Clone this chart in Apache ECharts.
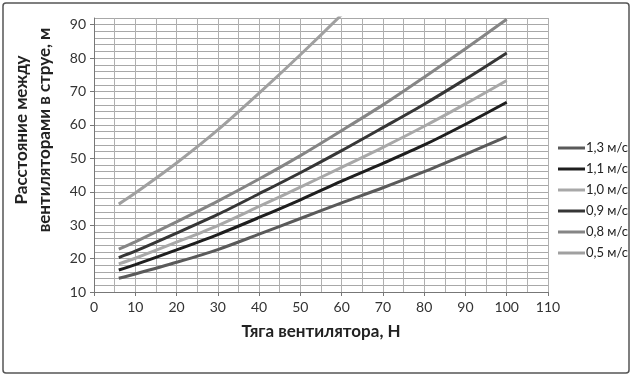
<!DOCTYPE html>
<html>
<head>
<meta charset="utf-8">
<script src="https://cdn.jsdelivr.net/npm/echarts@6/dist/echarts.min.js"></script>
<style>html,body{margin:0;padding:0;background:#fff}#c{width:635px;height:380px}</style>
</head>
<body>
<div id="c"></div>
<script>
// Thrust values (N)
var thrust = [6, 10, 20, 30, 40, 50, 60, 70, 80, 90, 100];
// Distance between fans (m) for each air velocity
var v13 = [14.1, 15.4, 18.9, 22.7, 27.3, 32.0, 36.7, 41.2, 46.0, 51.2, 56.5];
var v11 = [16.6, 18.2, 22.6, 27.2, 32.3, 37.6, 43.2, 48.5, 54.0, 60.2, 66.8];
var v10 = [18.4, 20.1, 24.9, 29.9, 35.6, 41.4, 47.3, 53.3, 59.6, 66.3, 73.3];
var v09 = [20.3, 22.2, 27.6, 33.2, 39.4, 45.7, 52.3, 59.2, 66.2, 73.7, 81.5];
var v08 = [22.8, 25.0, 31.0, 37.2, 43.8, 50.8, 58.3, 66.0, 74.3, 82.8, 91.6];
var v05 = [36.3, 39.6, 48.6, 58.5, 69.5, 81.0, 93.0, 105.5, 118.0, 131.0, 144.0];
var seriesNames = ['1,3 м/с', '1,1 м/с', '1,0 м/с', '0,9 м/с', '0,8 м/с', '0,5 м/с'];
var xTicks = [0, 10, 20, 30, 40, 50, 60, 70, 80, 90, 100, 110];
var yTicks = [10, 20, 30, 40, 50, 60, 70, 80, 90];

var colors = ['#5a5a5a', '#1e1e1e', '#a8a8a8', '#363636', '#858585', '#a0a0a0'];
var dataSets = [v13, v11, v10, v09, v08, v05];

function pairs(ys) { return thrust.map(function (x, i) { return [x, ys[i]]; }); }

var series = dataSets.map(function (d, i) {
  return {
    name: seriesNames[i], type: 'line', data: pairs(d), symbol: 'none', smooth: 0.3,
    xAxisIndex: 0, yAxisIndex: 0, z: 5,
    lineStyle: { color: colors[i], width: 3 }, itemStyle: { color: colors[i] }, clip: true
  };
});

var FONT = 'Lato';
var chart = echarts.init(document.getElementById('c'));
chart.setOption({
  animation: false,
  backgroundColor: '#fff',
  textStyle: { fontFamily: FONT },
  grid: { left: 94, right: 87, top: 18, bottom: 88 },
  xAxis: [{
    type: 'value', min: 0, max: 110, interval: 10,
    name: 'Тяга вентилятора, Н', nameLocation: 'middle', nameGap: 31,
    nameTextStyle: { fontSize: 17, fontWeight: 'bold', color: '#222', fontFamily: FONT },
    axisLine: { show: true, lineStyle: { color: '#777', width: 1 } },
    axisTick: { show: true, customValues: xTicks, length: 4, lineStyle: { color: '#777' } },
    axisLabel: { customValues: xTicks, color: '#333', fontSize: 14, margin: 8 },
    splitLine: { show: false }, z: 3
  }, {
    type: 'value', min: 0, max: 110, interval: 5, position: 'bottom',
    axisLine: { show: false }, axisTick: { show: false }, axisLabel: { show: false },
    splitLine: { show: true, lineStyle: { color: '#b0b0b0', width: 1 } }
  }],
  yAxis: [{
    type: 'value', min: 10, max: 92, interval: 10,
    axisLine: { show: true, lineStyle: { color: '#777', width: 1 } },
    axisTick: { show: true, customValues: yTicks, length: 4, lineStyle: { color: '#777' } },
    axisLabel: { customValues: yTicks, color: '#333', fontSize: 14, margin: 8 },
    splitLine: { show: false }, z: 3
  }, {
    type: 'value', min: 10, max: 92, interval: 2, position: 'left',
    axisLine: { show: false }, axisTick: { show: false }, axisLabel: { show: false },
    splitLine: { show: true, lineStyle: { color: '#a8a8a8', width: 1 } }
  }],
  legend: {
    orient: 'vertical', left: 553, top: 136, itemWidth: 27, itemHeight: 3, itemGap: 7,
    icon: 'rect',
    data: seriesNames,
    textStyle: { fontSize: 13, lineHeight: 14, color: '#222', padding: [0, 0, 0, -4], fontFamily: FONT }
  },
  graphic: [
    { type: 'rect', shape: { x: 3, y: 3, width: 626, height: 370, r: 3 }, style: { fill: 'none', stroke: '#555', lineWidth: 1.5 }, z: 100 },
    { type: 'text', x: 33, y: 130, rotation: Math.PI / 2,
      style: { text: 'Расстояние между\nвентиляторами в струе, м', font: 'bold 17px Lato', fill: '#222', align: 'center', verticalAlign: 'middle', lineHeight: 23 } }
  ],
  series: series
});
</script>
</body>
</html>
